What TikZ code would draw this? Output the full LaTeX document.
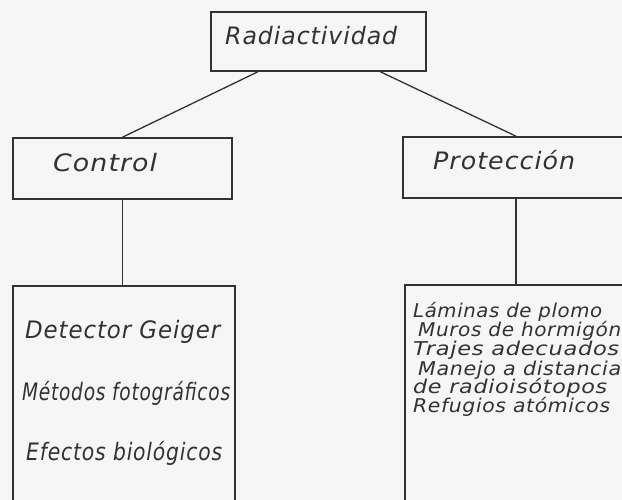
\documentclass[tikz,border=0pt]{standalone}
\usepackage{fontspec}
\setmainfont{DejaVu Sans}
\usepackage{graphicx}
\usetikzlibrary{calc}
\definecolor{ink}{RGB}{50,50,50}
\definecolor{paper}{RGB}{246,246,246}
\newcommand{\fitw}[2]{\resizebox{#1pt}{\height}{#2}}
\begin{document}
\begin{tikzpicture}[x=1pt,y=-1pt,
  box/.style={draw=ink, line width=1.6pt, inner sep=0pt},
  conn/.style={draw=ink, line width=1.3pt},
  lbl/.style={anchor=base west, inner sep=0pt, text=ink,
    font=\itshape\fontsize{24}{24}\selectfont\addfontfeature{LetterSpace=4}},
  lbs/.style={anchor=base west, inner sep=0pt, text=ink,
    font=\itshape\fontsize{19}{19}\selectfont\addfontfeature{LetterSpace=3}}]
\fill[paper] (0,0) rectangle (622,500);
\useasboundingbox (0,0) rectangle (622,500);
\clip (0,0) rectangle (622,500);
% boxes
\node[box, minimum width=215pt, minimum height=59pt] (top) at (318.5,41.5) {};
\node[box, minimum width=219pt, minimum height=61pt] (ctrl) at (122.5,168.5) {};
\node[box, minimum width=226pt, minimum height=61pt] (prot) at (516,167.5) {};
\node[box, minimum width=222pt, minimum height=240pt] (clist) at (124,406) {};
\node[box, minimum width=222pt, minimum height=240pt] (plist) at (516,405) {};
% connectors
\draw[conn] ($(top.south west)!0.22!(top.south east)$) -- (ctrl.north);
\draw[conn] ($(top.south west)!0.786!(top.south east)$) -- (prot.north);
\draw[conn] (ctrl.south) -- (ctrl.south |- clist.north);
\draw[conn] (prot.south) -- (prot.south |- plist.north);
% labels
\node[lbl] (t0) at (225,45) {\fitw{172}{Radiactividad}};
\node[lbl] (t1) at (53,172) {\fitw{104}{Control}};
\node[lbl] (t2) at (433,170) {\fitw{142}{Protección}};
\node[lbl] (c1) at (25,338) {\fitw{195}{Detector Geiger}};
\node[lbl] (c2) at (22,400) {\fitw{208}{Métodos fotográficos}};
\node[lbl] (c3) at (26,460) {\fitw{196}{Efectos biológicos}};
\node[lbs] (p1) at (413,317) {\fitw{189}{Láminas de plomo}};
\node[lbs] (p2) at (418,337) {\fitw{203}{Muros de hormigón}};
\node[lbs] (p3) at (413,355) {\fitw{206}{Trajes adecuados}};
\node[lbs] (p4) at (418,375) {\fitw{203}{Manejo a distancia}};
\node[lbs] (p5) at (413,393) {\fitw{194}{de radioisótopos}};
\node[lbs] (p6) at (413,412) {\fitw{197}{Refugios atómicos}};
\end{tikzpicture}
\end{document}
